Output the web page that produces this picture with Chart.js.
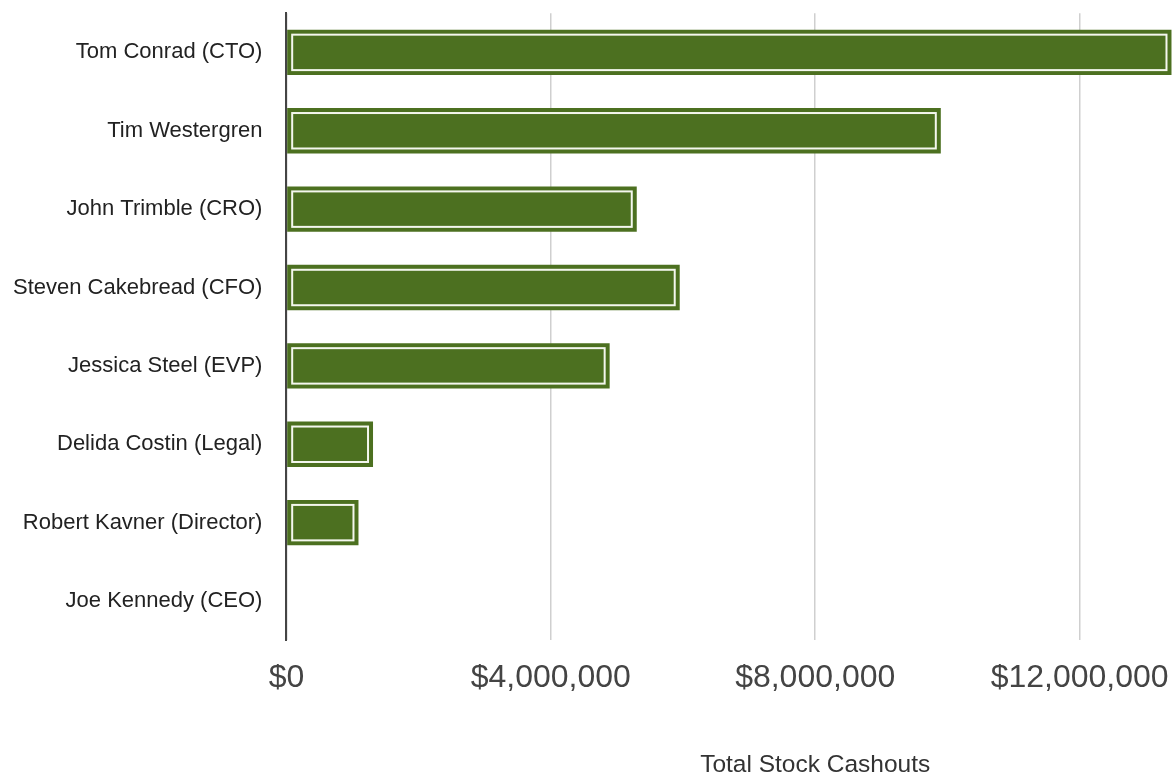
<!DOCTYPE html>
<html>
<head>
<meta charset="utf-8">
<script src="https://cdn.jsdelivr.net/npm/chart.js@4/dist/chart.umd.min.js"></script>
<style>
  html,body{margin:0;padding:0;background:#fff;overflow:hidden;}
  .wrap{width:1344px;height:774px;position:relative;}
</style>
</head>
<body>
<div class="wrap"><canvas id="cashouts"></canvas></div>
<script>
/* ====== DATA ====== */
const people = [
  'Tom Conrad (CTO)',
  'Tim Westergren',
  'John Trimble (CRO)',
  'Steven Cakebread (CFO)',
  'Jessica Steel (EVP)',
  'Delida Costin (Legal)',
  'Robert Kavner (Director)',
  'Joe Kennedy (CEO)'
];
const cashouts = [13390000, 9900000, 5300000, 5950000, 4890000, 1310000, 1090000, 0];
const axisMax = 16000000;
const axisStep = 4000000;

/* ====== STYLE ====== */
const GREEN = '#4c7020';
const FONT = '"Liberation Sans", Arial, Helvetica, sans-serif';

const money = v => '$' + Number(v).toLocaleString('en-US');

// white pinstripe just inside each bar's edge
const innerStroke = {
  id: 'innerStroke',
  afterDatasetsDraw(chart){
    const {ctx} = chart;
    chart.getDatasetMeta(0).data.forEach(bar=>{
      const p = bar.getProps(['x','y','base','height'], true);
      const w = p.x - p.base;
      if(w < 10) return;
      ctx.save();
      ctx.strokeStyle = '#f4f7ee';
      ctx.lineWidth = 2;
      ctx.strokeRect(p.base + 5, p.y - p.height/2 + 5, w - 10, p.height - 10);
      ctx.restore();
    });
  }
};

new Chart(document.getElementById('cashouts').getContext('2d'), {
  type: 'bar',
  data: {
    labels: people,
    datasets: [{
      data: cashouts,
      backgroundColor: GREEN,
      borderWidth: 0,
      barPercentage: 0.58,
      categoryPercentage: 1
    }]
  },
  options: {
    indexAxis: 'y',
    responsive: true,
    maintainAspectRatio: false,
    animation: false,
    layout: {padding: {top: 12, left: 13, right: 0, bottom: -6}},
    plugins: {legend: {display: false}, tooltip: {enabled: false}},
    scales: {
      x: {
        min: 0, max: axisMax,
        // tick marks kept invisible, they only space the labels off the plot
        grid: {color: '#cfcfcf', lineWidth: 1.5, drawTicks: true, tickLength: 19, tickColor: 'rgba(0,0,0,0)'},
        border: {display: false},
        ticks: {
          stepSize: axisStep,
          padding: 0,
          color: '#444',
          font: {family: FONT, size: 32},
          callback: v => v >= axisMax ? '' : money(v)
        },
        title: {
          display: true,
          text: 'Total Stock Cashouts',
          color: '#333',
          font: {family: FONT, size: 24.5},
          padding: {top: 53, bottom: 0}
        }
      },
      y: {
        grid: {display: false, drawTicks: true, tickLength: 24},
        border: {display: true, color: '#444', width: 2},
        ticks: {
          padding: 0,
          color: '#222',
          font: {family: FONT, size: 22}
        }
      }
    }
  },
  plugins: [innerStroke]
});
</script>
</body>
</html>
